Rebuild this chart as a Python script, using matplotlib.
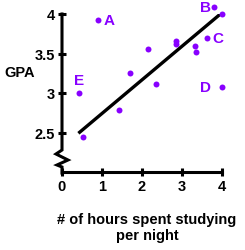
import numpy as np
import matplotlib.pyplot as plt

plt.rcParams['font.family'] = ['Liberation Sans', 'DejaVu Sans']
plt.rcParams['font.weight'] = 'bold'

# data
hours = [0.91, 3.81, 4.0, 3.63, 4.0, 0.43, 2.14, 1.71, 2.34, 1.43, 2.86, 2.86, 3.33, 3.35, 0.53]
gpa = [3.92, 4.09, 4.0, 3.69, 3.07, 3.0, 3.56, 3.25, 3.12, 2.79, 3.66, 3.62, 3.60, 3.52, 2.44]
trend_x = [0.41, 3.96]
trend_y = [2.49, 4.0]
label_names = ['A', 'B', 'C', 'D', 'E']
label_x = [1.05, 3.72, 3.77, 3.72, 0.42]
label_y = [3.92, 4.09, 3.69, 3.07, 3.16]
label_ha = ['left', 'right', 'left', 'right', 'center']
x_ticks = [0, 1, 2, 3, 4]
y_ticks = [2.5, 3, 3.5, 4]

purple = '#8800ff'


def main():
    fig = plt.figure(figsize=(2.45, 2.51), dpi=100)
    ax = fig.add_axes([62 / 245, 78 / 251, 160 / 245, 158 / 251])

    ax.plot(trend_x, trend_y, color='black', lw=2.4, solid_capstyle='butt', zorder=2)
    ax.plot(hours, gpa, 'o', color=purple, ms=4.3, mew=0, clip_on=False, zorder=3)
    for name, x, y, ha in zip(label_names, label_x, label_y, label_ha):
        ax.text(x, y, name, color=purple, fontsize=11, fontweight='bold',
                ha=ha, va='center')

    ax.set_xlim(0, 4)
    ax.set_ylim(2.0, 4.0)
    ax.set_xticks(x_ticks)
    ax.set_yticks(y_ticks)
    ax.set_yticklabels(['2.5', '3', '3.5', '4'])
    ax.tick_params(direction='inout', length=6, width=2.2, labelsize=10.5, pad=2)

    for side in ['top', 'right', 'left']:
        ax.spines[side].set_visible(False)
    ax.spines['bottom'].set_linewidth(2.2)
    ax.patch.set_alpha(0)

    # y axis with a break (zigzag) near the bottom
    def px(x, y):
        return (x - 62) / 160, (173 - y) / 158

    axis_pts = [(62, 15), (62, 151), (56, 155), (68, 161), (57, 166), (62, 168), (62, 174)]
    xs, ys = zip(*[px(x, y) for x, y in axis_pts])
    ax.plot(xs, ys, color='black', lw=2.2, transform=ax.transAxes, clip_on=False,
            solid_joinstyle='miter')

    fig.text(20 / 245, 1 - 73 / 251, 'GPA', fontsize=10.5, fontweight='bold',
             ha='center', va='center')
    fig.text(147 / 245, 1 - 228 / 251, '# of hours spent studying\nper night',
             fontsize=10.5, fontweight='bold', ha='center', va='center',
             linespacing=1.25)

    fig.savefig('out.png', dpi=100)
    plt.close(fig)


if __name__ == "__main__":
    main()
